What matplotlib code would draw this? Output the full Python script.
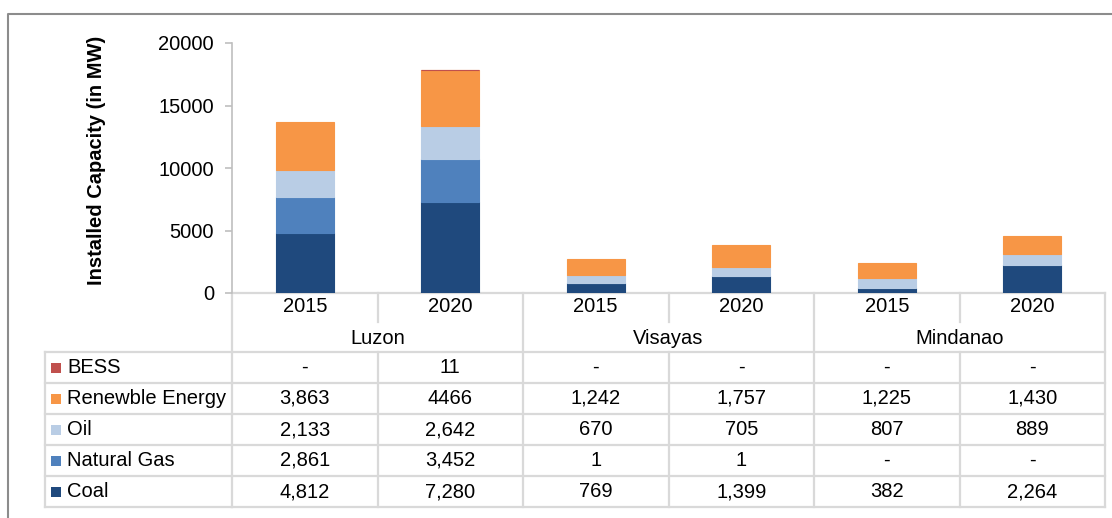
import numpy as np
import matplotlib
matplotlib.use("Agg")
import matplotlib.pyplot as plt
from matplotlib.transforms import blended_transform_factory

plt.rcParams['font.family'] = ['Liberation Sans', 'DejaVu Sans']

# Data, as printed in the table under the chart
regions = ["Luzon", "Visayas", "Mindanao"]
years = ["2015", "2020"]
series = ["BESS", "Renewble Energy", "Oil", "Natural Gas", "Coal"]
bess_txt = ["-", "11", "-", "-", "-", "-"]
renew_txt = ["3,863", "4466", "1,242", "1,757", "1,225", "1,430"]
oil_txt = ["2,133", "2,642", "670", "705", "807", "889"]
gas_txt = ["2,861", "3,452", "1", "1", "-", "-"]
coal_txt = ["4,812", "7,280", "769", "1,399", "382", "2,264"]
colors = ["#C0504D", "#F79646", "#B9CDE5", "#4F81BD", "#1F497D"]
yticks = [0, 5000, 10000, 15000, 20000]


def to_num(vals):
    return np.array([0 if s == "-" else int(s.replace(",", "")) for s in vals], dtype=float)


table_txt = [bess_txt, renew_txt, oil_txt, gas_txt, coal_txt]
W, H = 1112, 518
fig = plt.figure(figsize=(W / 100, H / 100), dpi=100)

# pixel overlay for the frame and table
ov = fig.add_axes([0, 0, 1, 1])
ov.set_xlim(0, W)
ov.set_ylim(H, 0)
ov.axis("off")

fs = 14.5
ax = fig.add_axes([232 / W, (H - 293) / H, (1105 - 232) / W, 250 / H])
x = np.arange(len(regions) * len(years))
bottom = np.zeros(len(x))
# stack from the bottom of the table upward
for name, txt, col in zip(series[::-1], table_txt[::-1], colors[::-1]):
    vals = to_num(txt)
    ax.bar(x, vals, 0.4, bottom=bottom, color=col, edgecolor=col,
           linewidth=np.where(vals > 0, 0.8, 0))
    bottom += vals

ax.set_xlim(-0.5, len(x) - 0.5)
ax.set_ylim(0, 20000)
ax.set_yticks(yticks)
ax.set_yticklabels([str(t) for t in yticks], fontsize=fs)
ax.set_xticks([])
for s in ["top", "right", "bottom"]:
    ax.spines[s].set_visible(False)
ax.spines["left"].set_color("#bfbfbf")
ax.spines["left"].set_linewidth(1.2)
ax.tick_params(axis="y", color="#bfbfbf", length=5, width=1.2, pad=8)
ax.set_ylabel("Installed Capacity (in MW)", fontsize=14.5, fontweight="bold")
ax.yaxis.set_label_coords(-126 / (1105 - 232), 0.532)
ax.patch.set_alpha(0)

# outer frame (cropped on right and bottom)
ov.plot([8, 8, W + 5], [H + 5, 14, 14], color="#8c8c8c", lw=1.5, clip_on=False)

tr = blended_transform_factory(ax.transData, ov.transData)
grid = dict(color="#d9d9d9", lw=1.6, clip_on=False)
y_axis, y_year, y_reg, y_tab = 293, 322, 352, 507
row_h = (y_tab - y_reg) / len(series)

# year / region header
ov.plot([-0.5, len(x) - 0.5], [y_axis, y_axis], transform=tr, **grid)
for i, xi in enumerate(x):
    ov.text(xi, 307, years[i % 2], transform=tr, ha="center", va="center", fontsize=fs)
for r, name in enumerate(regions):
    ov.text(2 * r + 0.5, 338, name, transform=tr, ha="center", va="center", fontsize=fs)
    ov.plot([2 * r + 0.5] * 2, [y_axis, y_year], transform=tr, **grid)
for b in np.arange(-0.5, len(x), 2):
    ov.plot([b, b], [y_axis, y_tab], transform=tr, **grid)

# data table
for b in np.arange(0.5, len(x), 2):
    ov.plot([b, b], [y_reg, y_tab], transform=tr, **grid)
ov.plot([45, 45], [y_reg, y_tab], **grid)
for k in range(len(series) + 1):
    yk = y_reg + k * row_h
    ov.plot([45, 232], [yk, yk], **grid)
    ov.plot([-0.5, len(x) - 0.5], [yk, yk], transform=tr, **grid)
for k, (name, txt, col) in enumerate(zip(series, table_txt, colors)):
    yc = y_reg + (k + 0.5) * row_h
    ov.scatter([56], [yc], marker="s", s=55, color=col, linewidths=0, clip_on=False)
    ov.text(67, yc, name, ha="left", va="center", fontsize=fs)
    for xi, t in zip(x, txt):
        ov.text(xi, yc, t, transform=tr, ha="center", va="center", fontsize=fs)

fig.savefig("out.png", dpi=100)
